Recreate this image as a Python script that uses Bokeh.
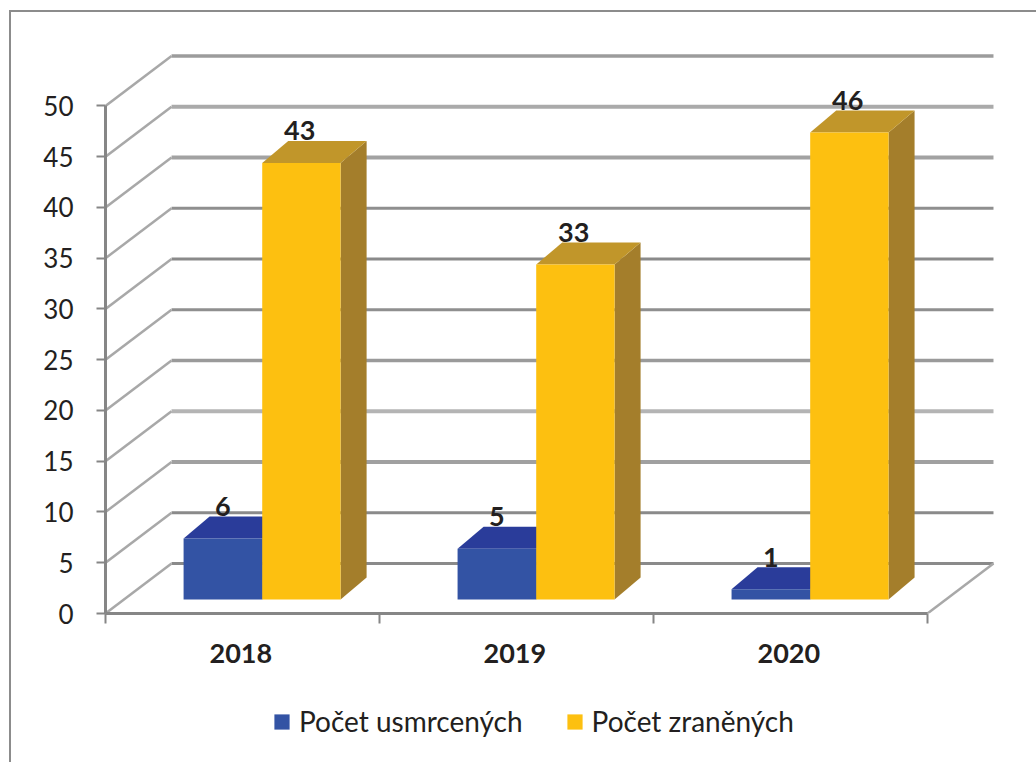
from bokeh.plotting import figure
from bokeh.embed import file_html
from bokeh.resources import INLINE
from bokeh.layouts import column
from bokeh.models import Range1d, LinearAxis, FixedTicker, Legend, LegendItem, InlineStyleSheet
from bokeh.core.properties import value

categories = ["2018", "2019", "2020"]
usmrceni = [6, 5, 1]
zraneni = [43, 33, 46]
y_ticks = [0, 5, 10, 15, 20, 25, 30, 35, 40, 45, 50]
series_names = ["Počet usmrcených", "Počet zraněných"]

BLUE, BLUE_TOP = "#3353a4", "#2a3c9a"
YEL, YEL_TOP, YEL_SIDE = "#fdc010", "#c1962a", "#a47e2b"
GRID_COLORS = ["#8a8a8a", "#8a8a8a", "#a0a0a0", "#b4b4b4", "#9a9a9a", "#8f8f8f",
               "#8a8a8a", "#8f8f8f", "#a2a2a2", "#aaaaaa", "#9c9c9c"]
GRID_WIDTHS = [3, 3, 4, 4, 3.5, 3, 3, 3, 4, 4, 3.5]
AXIS = "#868686"
TEXT = "#231f20"
FONT = "Lato"

WALL_DX, WALL_DY = 0.241, 4.93
BASE = 1.38
DEPTH_DX, DEPTH_DY = 0.095, 2.17
BLUE_L, MID, YEL_R = 0.285, 0.572, 0.858
LABEL_SHIFT = 0.006

border_css = InlineStyleSheet(css=""":host::before {
  content: ""; position: absolute; left: 9px; top: 10px; right: 0; bottom: 0;
  border-left: 2px solid #8c8c8c; border-top: 2px solid #8c8c8c;
  z-index: 5; pointer-events: none;
}""")

p = figure(width=1036, height=680, output_backend="svg", toolbar_location=None,
           x_axis_location=None, y_axis_location=None,
           min_border_left=105, min_border_right=0, min_border_top=0, min_border_bottom=67,
           x_range=Range1d(0, 3.398), y_range=Range1d(0, 60.39))
p.grid.visible = False
p.outline_line_color = None
p.background_fill_color = "white"
p.border_fill_color = "white"

# back wall lines and side wall lines
p.segment(x0=[WALL_DX] * len(y_ticks), x1=[3 + WALL_DX] * len(y_ticks),
          y0=[t + WALL_DY for t in y_ticks], y1=[t + WALL_DY for t in y_ticks],
          line_color=GRID_COLORS, line_width=GRID_WIDTHS)
p.segment(x0=[0] * len(y_ticks), x1=[WALL_DX] * len(y_ticks),
          y0=y_ticks, y1=[t + WALL_DY for t in y_ticks],
          line_color="#a8a8a8", line_width=2.5)
p.segment(x0=[3], x1=[3 + WALL_DX], y0=[0], y1=[WALL_DY], line_color="#a8a8a8", line_width=2.5)

idx = list(range(len(categories)))

def bar(vals, left, right, front, top, side):
    xl = [i + left for i in idx]
    xr = [i + right for i in idx]
    tops = [v + BASE for v in vals]
    # side face
    p.patches(xs=[[r, r + DEPTH_DX, r + DEPTH_DX, r] for r in xr],
              ys=[[BASE, BASE + DEPTH_DY, t + DEPTH_DY, t] for t in tops],
              fill_color=side, line_color=None)
    # top face
    p.patches(xs=[[l, l + DEPTH_DX, r + DEPTH_DX, r] for l, r in zip(xl, xr)],
              ys=[[t, t + DEPTH_DY, t + DEPTH_DY, t] for t in tops],
              fill_color=top, line_color=None)
    p.quad(left=xl, right=xr, bottom=[BASE] * len(vals), top=tops,
           fill_color=front, line_color=None)

bar(usmrceni, BLUE_L, MID, BLUE, BLUE_TOP, BLUE_TOP)
bar(zraneni, MID, YEL_R, YEL, YEL_TOP, YEL_SIDE)

# data labels
lab_x = [i + (BLUE_L + MID) / 2 for i in idx] + [i + (MID + YEL_R) / 2 - LABEL_SHIFT for i in idx]
lab_y = [v + BASE + DEPTH_DY for v in usmrceni] + [v + BASE + DEPTH_DY for v in zraneni]
lab_t = [str(v) for v in usmrceni] + [str(v) for v in zraneni]
p.text(x=lab_x, y=lab_y, text=lab_t, text_align="center", text_baseline="alphabetic",
       y_offset=-10, text_font=value(FONT), text_font_style="bold", text_font_size="27px",
       text_color=TEXT)

# axes
yax = LinearAxis(ticker=FixedTicker(ticks=y_ticks), bounds=(0, 50))
yax.axis_line_color = AXIS
yax.axis_line_width = 3
yax.major_tick_line_color = AXIS
yax.major_tick_line_width = 2
yax.major_tick_out = 9
yax.major_tick_in = 0
yax.minor_tick_out = 0
yax.minor_tick_in = 0
yax.major_label_standoff = 23
yax.major_label_text_font = FONT
yax.major_label_text_font_size = "26px"
yax.major_label_text_color = TEXT
p.add_layout(yax, "left")

cat_pos = [i + 0.5 - LABEL_SHIFT for i in idx]
xax = LinearAxis(ticker=FixedTicker(ticks=cat_pos, minor_ticks=[0, 1, 2, 3]), bounds=(0, 3))
xax.major_label_overrides = {x: c for x, c in zip(cat_pos, categories)}
xax.axis_line_color = AXIS
xax.axis_line_width = 3
xax.major_tick_out = 0
xax.major_tick_in = 0
xax.minor_tick_line_color = AXIS
xax.minor_tick_line_width = 2
xax.minor_tick_out = 10
xax.minor_tick_in = 0
xax.major_label_standoff = 20
xax.major_label_text_font = FONT
xax.major_label_text_font_style = "bold"
xax.major_label_text_font_size = "27px"
xax.major_label_text_color = TEXT
p.add_layout(xax, "below")

# legend strip (its swatches come from glyphs that lie outside the strip's ranges)
p2 = figure(width=1036, height=82, output_backend="svg", toolbar_location=None,
            x_axis_location=None, y_axis_location=None,
            min_border=0, x_range=Range1d(0, 1), y_range=Range1d(0, 1))
p2.grid.visible = False
p2.outline_line_color = None
r_blue = p2.quad(left=[2], right=[3], bottom=[2], top=[3], fill_color=BLUE, line_color=None)
r_yel = p2.quad(left=[2], right=[3], bottom=[2], top=[3], fill_color=YEL, line_color=None)
legend = Legend(items=[LegendItem(label=series_names[0], renderers=[r_blue]),
                       LegendItem(label=series_names[1], renderers=[r_yel])],
                orientation="horizontal", location=(167, 24),
                border_line_color=None, background_fill_alpha=0,
                glyph_width=19, glyph_height=19, label_standoff=8, spacing=42,
                padding=0, margin=0,
                label_text_font=FONT, label_text_font_size="28px", label_text_color=TEXT)
p2.add_layout(legend, "center")

layout = column(p, p2, spacing=0, stylesheets=[border_css])
open("out.html", "w").write(file_html(layout, INLINE))
